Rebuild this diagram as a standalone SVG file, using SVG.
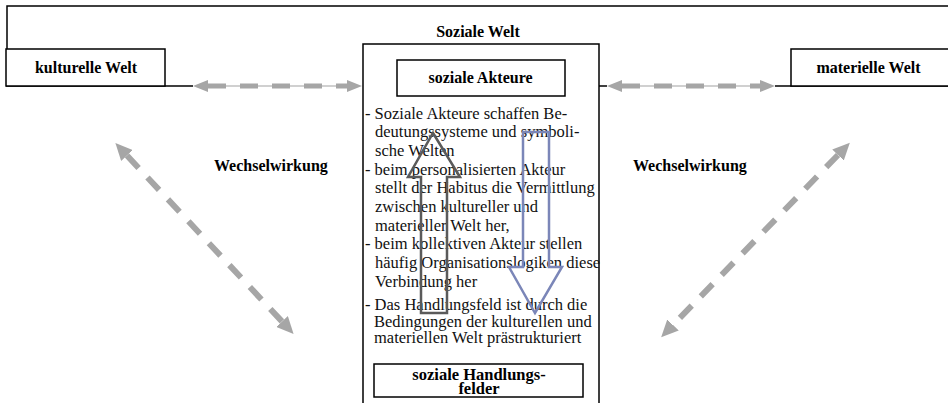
<svg xmlns="http://www.w3.org/2000/svg" width="948" height="403" viewBox="0 0 948 403">
<style>
.frame{fill:#fff;stroke:#000;stroke-width:1.5}
.line{fill:none;stroke:#000;stroke-width:1.5}
.lbl{font-family:"Liberation Serif",serif;font-weight:bold;font-size:16px;fill:#000}
.body{font-family:"Liberation Serif",serif;font-size:16.5px;fill:#111}
.thin{stroke:#c0c0c0;stroke-width:1.5;fill:none}
.dash{stroke:#a6a6a6;stroke-width:5;stroke-dasharray:18 14;fill:none}
.ddash{stroke:#a6a6a6;stroke-width:6;stroke-dasharray:17 13;fill:none;marker-start:url(#hd);marker-end:url(#hd)}
.head{fill:#a6a6a6}
</style>
<defs>
<marker id="hd" markerUnits="userSpaceOnUse" markerWidth="18" markerHeight="16" refX="0" refY="8" orient="auto-start-reverse" viewBox="0 0 18 16">
<path d="M0,0 L17,8 L0,16 z" fill="#a6a6a6"/>
</marker>
</defs>
<rect width="948" height="403" fill="#fff"/>
<g id="outer-frame">
<path class="line" d="M7,49 V6 H948"/>
<path class="line" d="M6,86 H193"/>
<path class="line" d="M599,86 H607"/>
<path class="line" d="M775,86 H948"/>
</g>
<g id="soziale-welt">
<rect class="frame" x="363" y="44" width="236" height="370"/>
<text class="lbl" x="478" y="36.5" text-anchor="middle">Soziale Welt</text>
</g>
<g id="kulturelle-welt">
<rect class="frame" x="6" y="49" width="159" height="37"/>
<text class="lbl" x="86" y="73" text-anchor="middle">kulturelle Welt</text>
</g>
<g id="materielle-welt">
<rect class="frame" x="791" y="49" width="170" height="37"/>
<text class="lbl" x="868.5" y="73" text-anchor="middle">materielle Welt</text>
</g>
<g id="soziale-akteure">
<rect class="frame" x="397" y="60" width="168" height="36"/>
<text class="lbl" x="480.5" y="83" text-anchor="middle">soziale Akteure</text>
</g>
<g id="beschreibung">
<text class="body">
<tspan x="365" y="118.5">- Soziale Akteure schaffen Be-</tspan>
<tspan x="375" y="137.2">deutungssysteme und symboli-</tspan>
<tspan x="375" y="155.9">sche Welten</tspan>
<tspan x="365" y="174.6">- beim personalisierten Akteur</tspan>
<tspan x="375" y="193.3">stellt der Habitus die Vermittlung</tspan>
<tspan x="375" y="212">zwischen kultureller und</tspan>
<tspan x="375" y="230.7">materieller Welt her,</tspan>
<tspan x="365" y="249.4">- beim kollektiven Akteur stellen</tspan>
<tspan x="375" y="268.1">häufig Organisationslogiken diese</tspan>
<tspan x="375" y="286.8">Verbindung her</tspan>
<tspan x="365" y="310">- Das Handlungsfeld ist durch die</tspan>
<tspan x="374" y="326.5">Bedingungen der kulturellen und</tspan>
<tspan x="374" y="343">materiellen Welt prästrukturiert</tspan>
</text>
</g>
<g id="soziale-handlungsfelder">
<rect class="frame" x="374" y="364" width="209" height="33"/>
<text class="lbl" x="479" y="380" text-anchor="middle" style="font-size:16.5px">soziale Handlungs-</text>
<text class="lbl" x="479" y="394" text-anchor="middle" style="font-size:16.5px">felder</text>
</g>
<g id="wechselwirkung-links">
<text class="lbl" x="214" y="171">Wechselwirkung</text>
</g>
<g id="wechselwirkung-rechts">
<text class="lbl" x="633" y="171">Wechselwirkung</text>
</g>
<g id="connectors">
<line class="thin" x1="205" y1="86" x2="350" y2="86"/>
<line class="dash" x1="208" y1="86" x2="348" y2="86"/>
<polygon class="head" points="193,86 208,80 208,92"/>
<polygon class="head" points="362,86 347,80 347,92"/>
<line class="thin" x1="619" y1="86" x2="763" y2="86"/>
<line class="dash" x1="622" y1="86" x2="761" y2="86"/>
<polygon class="head" points="607,86 622,80 622,92"/>
<polygon class="head" points="775,86 760,80 760,92"/>
<line class="ddash" x1="127" y1="155.5" x2="282" y2="321.5"/>
<line class="ddash" x1="838" y1="155" x2="673" y2="325"/>
<path fill="none" stroke="#5a5a5a" stroke-width="2.5" d="M433,133 L460,177 L447,177 L447,313 L421,313 L421,177 L408,177 Z"/>
<path fill="none" stroke="#7b86b8" stroke-width="2.5" d="M523,132 L549,132 L549,267 L562,267 L535,313 L509,267 L523,267 Z"/>
</g>
</svg>
